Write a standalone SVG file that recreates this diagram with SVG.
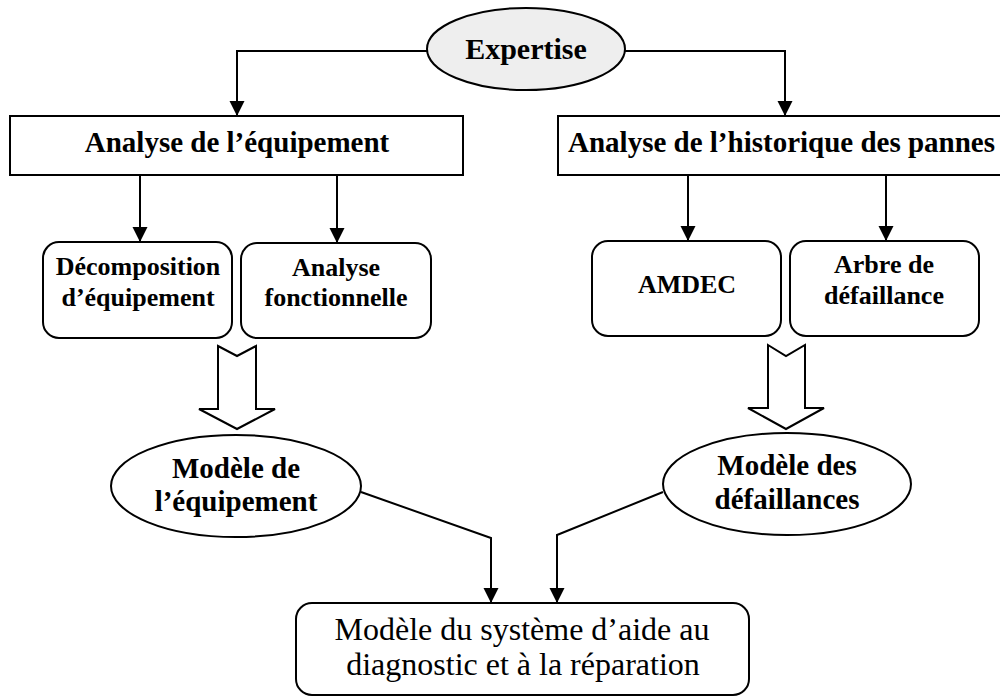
<svg xmlns="http://www.w3.org/2000/svg" width="1000" height="697" viewBox="0 0 1000 697">
  <style>
    .shape { fill: #ffffff; stroke: #000000; stroke-width: 2; }
    .start { fill: #eeeeee; stroke: #000000; stroke-width: 2; }
    .wire { fill: none; stroke: #000000; stroke-width: 2; }
    .block { fill: #ffffff; stroke: #000000; stroke-width: 2; stroke-linejoin: miter; }
    .b { font-family: "Liberation Serif", "Times New Roman", serif; font-weight: bold; fill: #000000; text-anchor: middle; }
    .r { font-family: "Liberation Serif", "Times New Roman", serif; fill: #000000; text-anchor: middle; }
  </style>
  <defs>
    <marker id="tri" markerUnits="userSpaceOnUse" markerWidth="16" markerHeight="16" refX="15" refY="7.5" orient="auto">
      <path d="M0,0 L15,7.5 L0,15 z" fill="#000000"/>
    </marker>
  </defs>
  <rect width="1000" height="697" fill="#ffffff"/>

  <!-- connectors -->
  <g id="connectors">
    <path class="wire" d="M427,51 H237 V116" marker-end="url(#tri)"/>
    <path class="wire" d="M625,51 H785 V116" marker-end="url(#tri)"/>
    <path class="wire" d="M140,175 V242" marker-end="url(#tri)"/>
    <path class="wire" d="M337,175 V243" marker-end="url(#tri)"/>
    <path class="wire" d="M688,175 V241" marker-end="url(#tri)"/>
    <path class="wire" d="M886,175 V241" marker-end="url(#tri)"/>
    <path class="wire" d="M361,492 L491,538 V603" marker-end="url(#tri)"/>
    <path class="wire" d="M663,492 L557,535 V603" marker-end="url(#tri)"/>
    <!-- hollow block arrows -->
    <polygon class="block" points="218,346 237,356 256,346 256,409 275,409 237,429 199,409 218,409"/>
    <polygon class="block" points="768,345 786,356 805,345 805,408 824,408 786,429 748,408 768,408"/>
  </g>

  <g id="expertise">
    <ellipse class="start" cx="526" cy="49" rx="99" ry="41"/>
    <text class="b" x="526" y="59" font-size="30">Expertise</text>
  </g>

  <g id="analyse-equipement">
    <rect class="shape" x="10" y="116" width="453" height="59"/>
    <text class="b" x="237" y="152" font-size="29">Analyse de l’équipement</text>
  </g>

  <g id="analyse-historique">
    <rect class="shape" x="558" y="116" width="460" height="59"/>
    <text class="b" x="568" y="152" font-size="29" style="text-anchor:start">Analyse de l’historique des pannes</text>
  </g>

  <g id="decomposition">
    <rect class="shape" x="43" y="242" width="189" height="96" rx="16"/>
    <text class="b" x="138" y="275" font-size="26">Décomposition</text>
    <text class="b" x="138" y="306" font-size="26">d’équipement</text>
  </g>

  <g id="analyse-fonctionnelle">
    <rect class="shape" x="241" y="243" width="190" height="95" rx="16"/>
    <text class="b" x="336" y="276" font-size="26">Analyse</text>
    <text class="b" x="336" y="306" font-size="26">fonctionnelle</text>
  </g>

  <g id="amdec">
    <rect class="shape" x="592" y="241" width="189" height="95" rx="16"/>
    <text class="b" x="687" y="293" font-size="26">AMDEC</text>
  </g>

  <g id="arbre-defaillance">
    <rect class="shape" x="790" y="241" width="189" height="95" rx="16"/>
    <text class="b" x="884" y="273" font-size="26">Arbre de</text>
    <text class="b" x="884" y="304" font-size="26">défaillance</text>
  </g>

  <g id="modele-equipement">
    <ellipse class="shape" cx="236" cy="486" rx="125" ry="51"/>
    <text class="b" x="236" y="478" font-size="29">Modèle de</text>
    <text class="b" x="236" y="511" font-size="29">l’équipement</text>
  </g>

  <g id="modele-defaillances">
    <ellipse class="shape" cx="787" cy="484" rx="124" ry="51"/>
    <text class="b" x="787" y="475" font-size="29">Modèle des</text>
    <text class="b" x="787" y="509" font-size="29">défaillances</text>
  </g>

  <g id="modele-systeme">
    <rect class="shape" x="296" y="603" width="453" height="92" rx="16"/>
    <text class="r" x="522" y="640" font-size="32">Modèle du système d’aide au</text>
    <text class="r" x="523" y="675" font-size="32">diagnostic et à la réparation</text>
  </g>
</svg>
